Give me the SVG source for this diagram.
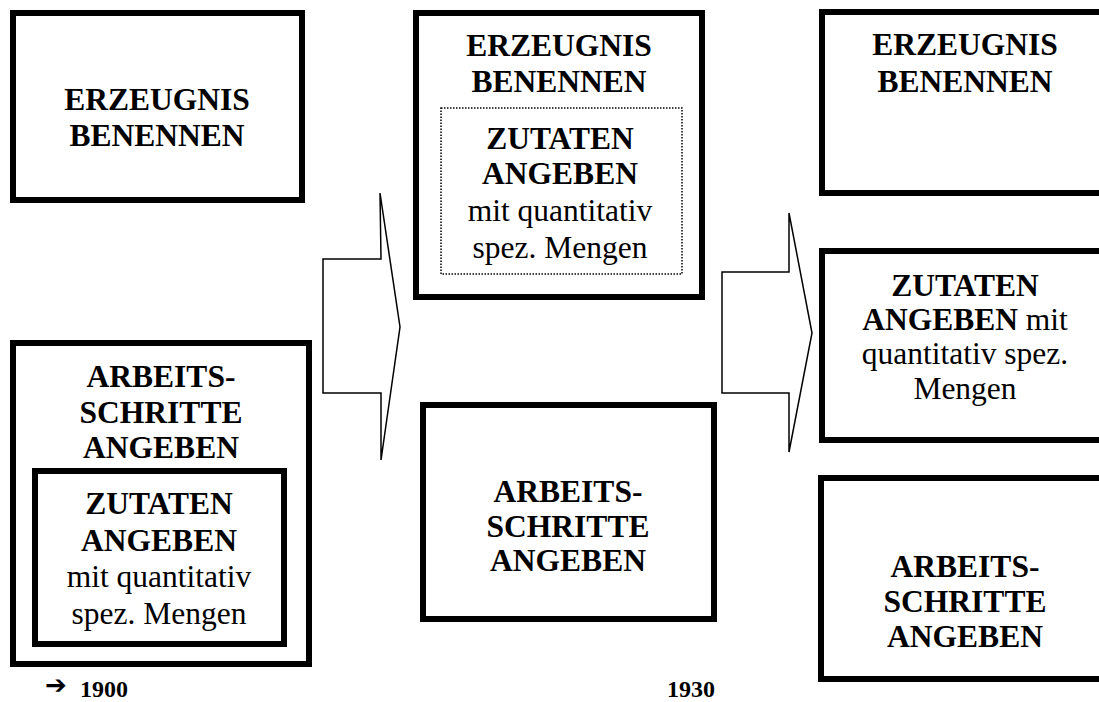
<svg xmlns="http://www.w3.org/2000/svg" width="1099" height="702" viewBox="0 0 1099 702">
<style>
.box{fill:#fff;stroke:#000;stroke-width:6}
.dot{fill:none;stroke:#000;stroke-width:1.5;stroke-dasharray:1.5 1.5}
.arr{fill:#fff;stroke:#000;stroke-width:1.5;stroke-linejoin:miter}
text{font-family:'Times New Roman','Liberation Serif',Tinos,serif;font-size:31.5px;fill:#000;text-anchor:middle}
.b{font-weight:bold}
.yr{font-size:24px;font-weight:bold;text-anchor:start}
.sym{font-family:'DejaVu Sans',sans-serif;font-size:26px;font-weight:bold;text-anchor:start}
</style>
<rect width="1099" height="702" fill="#fff"/>
<g id="connectors">
<path class="arr" d="M380,193 L381,259 L323,259 L323,393 L381,393 L381,460 L400,327 Z"/>
<path class="arr" d="M789,213 L789,272 L722,272 L722,393 L789,393 L789,452 L812,333 Z"/>
</g>
<g id="n1900-erzeugnis">
<rect class="box" x="13" y="13" width="289" height="187"/>
<text class="b" x="157" y="110">ERZEUGNIS</text>
<text class="b" x="157" y="146">BENENNEN</text>
</g>
<g id="n1900-arbeitsschritte">
<rect class="box" x="13" y="343" width="296" height="321"/>
<text class="b" x="161" y="387">ARBEITS-</text>
<text class="b" x="161" y="423">SCHRITTE</text>
<text class="b" x="161" y="458">ANGEBEN</text>
</g>
<g id="n1900-zutaten">
<rect class="box" x="35" y="471" width="249" height="173"/>
<text class="b" x="159" y="514">ZUTATEN</text>
<text class="b" x="159" y="551">ANGEBEN</text>
<text x="159" y="587">mit quantitativ</text>
<text x="159" y="624">spez. Mengen</text>
</g>
<g id="n1930-erzeugnis">
<rect class="box" x="416" y="13" width="286" height="284"/>
<text class="b" x="559" y="56">ERZEUGNIS</text>
<text class="b" x="559" y="92">BENENNEN</text>
</g>
<g id="n1930-zutaten">
<rect class="dot" x="441" y="108" width="241" height="166"/>
<text class="b" x="560" y="149">ZUTATEN</text>
<text class="b" x="560" y="184">ANGEBEN</text>
<text x="560" y="221">mit quantitativ</text>
<text x="560" y="258">spez. Mengen</text>
</g>
<g id="n1930-arbeitsschritte">
<rect class="box" x="423" y="405" width="291" height="214"/>
<text class="b" x="568" y="502">ARBEITS-</text>
<text class="b" x="568" y="537">SCHRITTE</text>
<text class="b" x="568" y="571">ANGEBEN</text>
</g>
<g id="n3-erzeugnis">
<rect class="box" x="822" y="12" width="300" height="181"/>
<text class="b" x="965" y="55">ERZEUGNIS</text>
<text class="b" x="965" y="92">BENENNEN</text>
</g>
<g id="n3-zutaten">
<rect class="box" x="822" y="251" width="300" height="189"/>
<text class="b" x="965" y="296">ZUTATEN</text>
<text x="965" y="330"><tspan class="b">ANGEBEN</tspan> mit</text>
<text x="965" y="364">quantitativ spez.</text>
<text x="965" y="399">Mengen</text>
</g>
<g id="n3-arbeitsschritte">
<rect class="box" x="821" y="478" width="300" height="201"/>
<text class="b" x="965" y="577">ARBEITS-</text>
<text class="b" x="965" y="612">SCHRITTE</text>
<text class="b" x="965" y="647">ANGEBEN</text>
</g>
<g id="labels">
<text class="sym" x="45" y="694">➔</text>
<text class="yr" x="80" y="697">1900</text>
<text class="yr" x="667" y="697">1930</text>
</g>
</svg>
